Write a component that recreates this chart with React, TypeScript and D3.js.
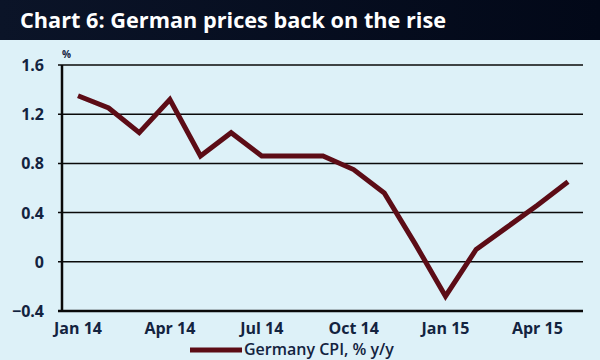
import React, { useEffect, useRef } from 'react';
import * as d3 from 'd3';

// Germany CPI, % y/y, Jan 14 - May 15
const months = [
  'Jan 14', 'Feb 14', 'Mar 14', 'Apr 14', 'May 14', 'Jun 14', 'Jul 14', 'Aug 14', 'Sep 14',
  'Oct 14', 'Nov 14', 'Dec 14', 'Jan 15', 'Feb 15', 'Mar 15', 'Apr 15', 'May 15'
];
const cpiValues = [1.35, 1.25, 1.05, 1.32, 0.86, 1.05, 0.86, 0.86, 0.86, 0.75, 0.56, 0.15, -0.28, 0.1, 0.28, 0.46, 0.65];
const yTicks = [-0.4, 0, 0.4, 0.8, 1.2, 1.6];
const xTickLabels = ['Jan 14', 'Apr 14', 'Jul 14', 'Oct 14', 'Jan 15', 'Apr 15'];

const title = 'Chart 6: German prices back on the rise';
const seriesName = 'Germany CPI, % y/y';

const App = () => {
  const svgRef = useRef<SVGSVGElement>(null);
  const width = 600;
  const height = 360;

  useEffect(() => {
    const svg = d3.select(svgRef.current);
    svg.selectAll('*').remove();

    const textColor = '#13233f';
    const font = '"Open Sans", "DejaVu Sans", sans-serif';

    // fondo
    svg.append('rect').attr('width', width).attr('height', height).attr('fill', '#ddf1f8');

    // banda del titulo
    const grad = svg.append('defs').append('linearGradient')
      .attr('id', 'band').attr('x1', 0).attr('x2', 1).attr('y1', 0).attr('y2', 0);
    grad.append('stop').attr('offset', '0%').attr('stop-color', '#0b1428');
    grad.append('stop').attr('offset', '100%').attr('stop-color', '#020818');
    svg.append('rect').attr('width', width).attr('height', 40).attr('fill', 'url(#band)');

    svg.append('text')
      .attr('x', 20)
      .attr('y', 28)
      .attr('fill', '#ffffff')
      .attr('font-family', font)
      .attr('font-weight', 700)
      .attr('font-size', 21.7)
      .text(title);

    const left = 62, right = 583, top = 65, bottom = 311;

    const x = d3.scalePoint<string>()
      .domain(months)
      .range([78, 568]);

    const y = d3.scaleLinear()
      .domain([-0.4, 1.6])
      .range([bottom, top]);

    // lineas de cuadricula
    svg.append('g')
      .selectAll('line')
      .data(yTicks.filter(t => t !== -0.4))
      .enter()
      .append('line')
      .attr('x1', left - 4)
      .attr('x2', right)
      .attr('y1', d => y(d))
      .attr('y2', d => y(d))
      .attr('stroke', '#0a0a0a')
      .attr('stroke-width', 1.5);

    // ejes
    svg.append('line')
      .attr('x1', left).attr('x2', left)
      .attr('y1', top).attr('y2', bottom)
      .attr('stroke', '#0a0a0a').attr('stroke-width', 2.5);
    svg.append('line')
      .attr('x1', left - 4).attr('x2', right)
      .attr('y1', bottom).attr('y2', bottom)
      .attr('stroke', '#0a0a0a').attr('stroke-width', 2.5);

    // etiquetas del eje y
    svg.append('g')
      .selectAll('text')
      .data(yTicks)
      .enter()
      .append('text')
      .attr('x', 44)
      .attr('y', d => y(d) + 6)
      .attr('text-anchor', 'end')
      .attr('fill', textColor)
      .attr('font-family', font)
      .attr('font-weight', 700)
      .attr('font-size', 16)
      .text(d => d3.format('')(d));

    svg.append('text')
      .attr('x', 62)
      .attr('y', 58)
      .attr('fill', textColor)
      .attr('font-family', font)
      .attr('font-weight', 700)
      .attr('font-size', 10)
      .text('%');

    // etiquetas del eje x
    svg.append('g')
      .selectAll('text')
      .data(xTickLabels)
      .enter()
      .append('text')
      .attr('x', d => x(d) ?? 0)
      .attr('y', 334)
      .attr('text-anchor', 'middle')
      .attr('fill', textColor)
      .attr('font-family', font)
      .attr('font-weight', 700)
      .attr('font-size', 16)
      .text(d => d);

    // serie
    const line = d3.line<number>()
      .x((d, i) => x(months[i]) ?? 0)
      .y(d => y(d));

    svg.append('path')
      .datum(cpiValues)
      .attr('fill', 'none')
      .attr('stroke', '#5c0c16')
      .attr('stroke-width', 5)
      .attr('stroke-linejoin', 'miter')
      .attr('d', line);

    // leyenda
    const legend = svg.append('g').attr('transform', 'translate(190, 350)');
    legend.append('line')
      .attr('x1', 0).attr('x2', 52)
      .attr('stroke', '#5c0c16').attr('stroke-width', 5);
    legend.append('text')
      .attr('x', 54)
      .attr('y', 5)
      .attr('fill', textColor)
      .attr('font-family', font)
      .attr('font-weight', 600)
      .attr('font-size', 16)
      .text(seriesName);
  }, []);

  return (
    <div style={{ width, height, overflow: 'hidden' }}>
      <style>{'body{margin:0}'}</style>
      <svg ref={svgRef} width={width} height={height} style={{ display: 'block' }} />
    </div>
  );
};

export default App;
